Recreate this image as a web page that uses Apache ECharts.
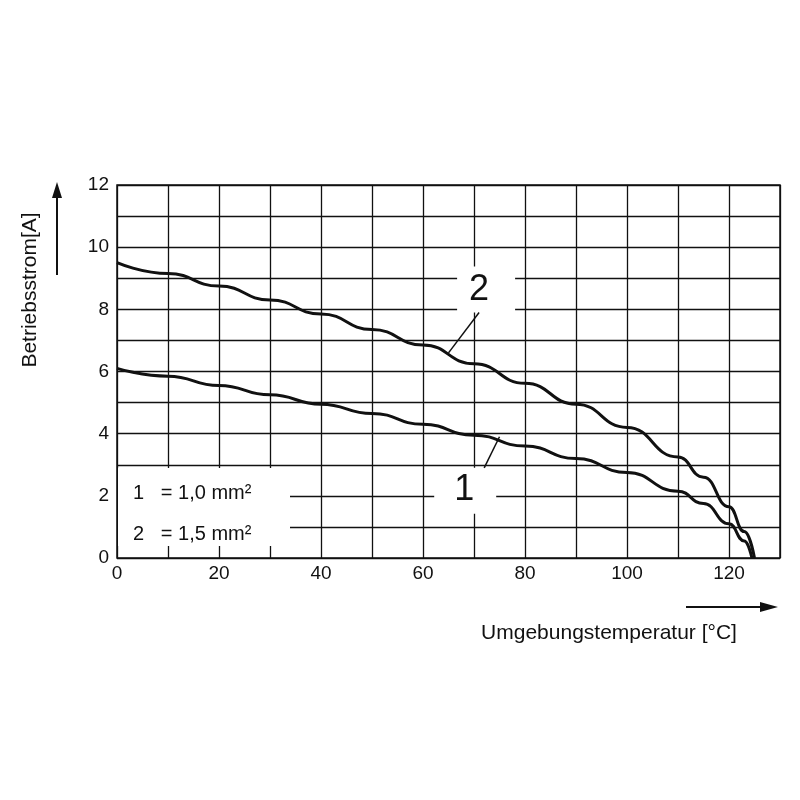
<!DOCTYPE html>
<html><head><meta charset="utf-8">
<script src="https://cdn.jsdelivr.net/npm/echarts@6/dist/echarts.min.js"></script>
<style>html,body{margin:0;background:#fff}#main{width:800px;height:800px}</style>
</head><body><div id="main"></div>
<script>
// Kurve 2 (1,5 mm²) und Kurve 1 (1,0 mm²)
const curve2 = [[0,9.5],[10,9.15],[20,8.75],[30,8.3],[40,7.85],[50,7.35],[60,6.85],[70,6.25],[80,5.62],[90,4.95],[100,4.2],[110,3.25],[115,2.6],[120,1.65],[123,0.85],[125,0]];
const curve1 = [[0,6.1],[10,5.85],[20,5.55],[30,5.25],[40,4.95],[50,4.65],[60,4.3],[70,3.95],[80,3.6],[90,3.2],[100,2.75],[110,2.15],[115,1.75],[120,1.1],[123,0.55],[124.5,0]];
const xLabels = [0,20,40,60,80,100,120];
const yLabels = [0,2,4,6,8,10,12];

const font = 'Liberation Sans, Arial, sans-serif';
const chart = echarts.init(document.getElementById('main'));
chart.setOption({
  animation: false,
  grid: {left: 117, right: 20, top: 185, bottom: 242},
  xAxis: {
    type: 'value', min: 0, max: 130, interval: 10,
    axisLine: {show: false}, axisTick: {show: false},
    splitLine: {lineStyle: {color: '#111', width: 1.3}},
    axisLabel: {color: '#111', fontSize: 19, fontFamily: font, margin: 6,
      formatter: v => xLabels.includes(v) ? v : ''}
  },
  yAxis: {
    type: 'value', min: 0, max: 12, interval: 1,
    axisLine: {show: false}, axisTick: {show: false},
    splitLine: {lineStyle: {color: '#111', width: 1.3}},
    axisLabel: {color: '#111', fontSize: 19, fontFamily: font, margin: 8,
      formatter: v => yLabels.includes(v) ? v : ''}
  },
  series: [
    {type: 'line', data: curve2, smooth: 0.5, smoothMonotone: 'x', symbol: 'none', lineStyle: {color: '#111', width: 3}, z: 5},
    {type: 'line', data: curve1, smooth: 0.5, smoothMonotone: 'x', symbol: 'none', lineStyle: {color: '#111', width: 3}, z: 5}
  ]
});

const p = (x, y) => chart.convertToPixel({gridIndex: 0}, [x, y]);
const a2 = p(65, 6.6), b2 = p(71, 7.9);
const a1 = p(75, 3.9), b1 = p(72, 2.9);
const txt = (x, y, s, size) => ({type: 'text', x, y, z: 20,
  style: {text: s, fill: '#111', font: size + 'px ' + font, textVerticalAlign: 'middle'}});
chart.setOption({graphic: [
  {type: 'rect', shape: {x: 118, y: 468, width: 172, height: 78}, style: {fill: '#fff'}, z: 10},
  txt(133, 493, '1   = 1,0 mm²', 20),
  txt(133, 534, '2   = 1,5 mm²', 20),
  {type: 'rect', shape: {x: b2[0] - 22, y: b2[1] - 46, width: 58, height: 46}, style: {fill: '#fff'}, z: 10},
  txt(b2[0] - 10, b2[1] - 22, '2', 36),
  {type: 'line', shape: {x1: a2[0], y1: a2[1], x2: b2[0], y2: b2[1]}, style: {stroke: '#111', lineWidth: 1.5}, z: 11},
  {type: 'rect', shape: {x: b1[0] - 50, y: b1[1], width: 62, height: 46}, style: {fill: '#fff'}, z: 10},
  txt(b1[0] - 30, b1[1] + 22, '1', 36),
  {type: 'line', shape: {x1: a1[0], y1: a1[1], x2: b1[0], y2: b1[1]}, style: {stroke: '#111', lineWidth: 1.5}, z: 11},
  {type: 'rect', shape: {x: 117, y: 185, width: 663, height: 373}, style: {fill: 'none', stroke: '#111', lineWidth: 1.5}, z: 12},
  {type: 'text', x: 30, y: 290, rotation: Math.PI / 2, z: 20,
    style: {text: 'Betriebsstrom[A]', fill: '#111', font: '21px ' + font, textAlign: 'center', textVerticalAlign: 'middle'}},
  {type: 'line', shape: {x1: 57, y1: 275, x2: 57, y2: 195}, style: {stroke: '#111', lineWidth: 2}},
  {type: 'polygon', shape: {points: [[57, 182], [52, 198], [62, 198]]}, style: {fill: '#111'}},
  {type: 'text', x: 609, y: 633, z: 20,
    style: {text: 'Umgebungstemperatur [°C]', fill: '#111', font: '21px ' + font, textAlign: 'center', textVerticalAlign: 'middle'}},
  {type: 'line', shape: {x1: 686, y1: 607, x2: 765, y2: 607}, style: {stroke: '#111', lineWidth: 2}},
  {type: 'polygon', shape: {points: [[778, 607], [760, 602], [760, 612]]}, style: {fill: '#111'}}
]});
</script></body></html>
